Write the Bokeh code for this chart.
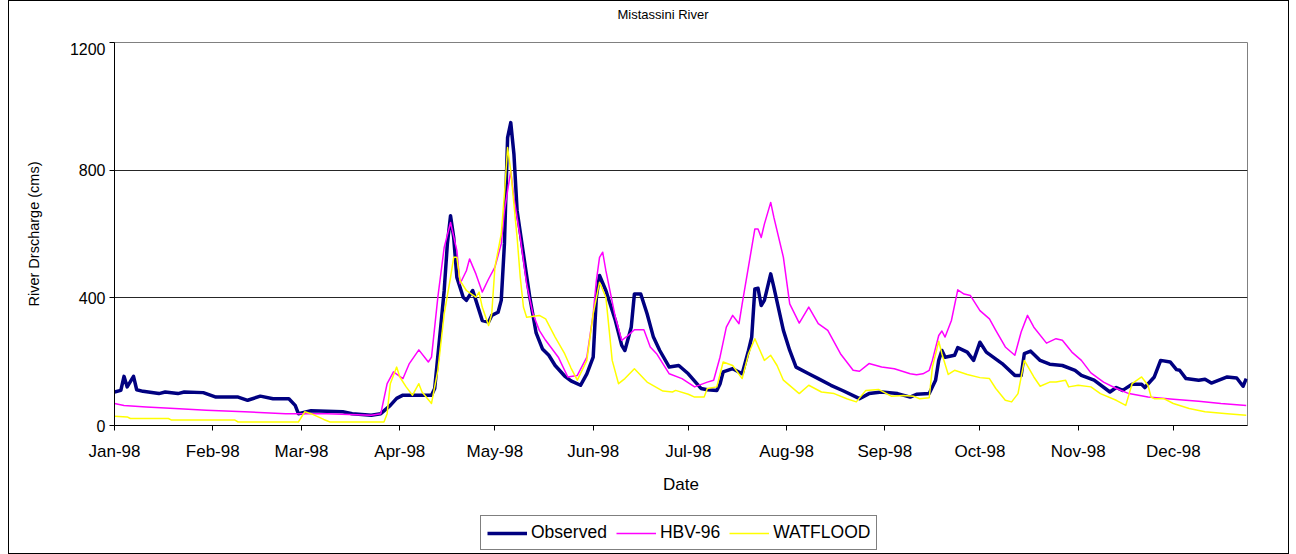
import pandas as pd
from bokeh.plotting import figure
from bokeh.layouts import column
from bokeh.models import Range1d, FixedTicker, Legend, LegendItem, Label
from bokeh.embed import file_html
from bokeh.resources import INLINE

# ---------------- data (day number since 1998-01-01, discharge in cms) -------------
title_text = "Mistassini River"
month_labels = ["Jan-98", "Feb-98", "Mar-98", "Apr-98", "May-98", "Jun-98",
                "Jul-98", "Aug-98", "Sep-98", "Oct-98", "Nov-98", "Dec-98"]
y_ticks = [0, 400, 800, 1200]

obs_days = [0, 2, 3, 4, 6, 7, 9, 14, 16, 20, 22, 28, 32, 39, 42, 46, 50, 55, 57, 58, 62, 72, 75, 81, 84, 87, 89,
            91, 94, 100, 101, 103, 104, 105, 106, 107, 108, 110, 111, 113, 114, 116, 118, 119, 121, 122, 123, 124,
            125, 126, 127, 129, 131, 133, 135, 137, 139, 142, 144, 147, 149, 151, 152, 153, 155, 158, 160, 161,
            163, 164, 166, 168, 170, 172, 175, 178, 181, 185, 187, 190, 191, 192, 195, 198, 200, 201, 202, 203,
            204, 205, 207, 208, 211, 213, 215, 219, 222, 226, 230, 235, 238, 242, 247, 251, 253, 257, 259, 260,
            261, 262, 265, 266, 269, 271, 273, 275, 280, 284, 286, 287, 289, 292, 295, 299, 303, 305, 309, 314,
            316, 318, 321, 324, 325, 328, 330, 333, 335, 336, 338, 342, 344, 346, 351, 354, 356, 357]
obs_vals = [105, 110, 154, 121, 154, 112, 107, 100, 105, 100, 105, 103, 89, 89, 79, 92, 84, 84, 63, 37, 46, 43, 37,
            32, 37, 63, 85, 95, 95, 95, 116, 319, 423, 569, 657, 589, 464, 402, 392, 423, 392, 329, 324, 345, 355,
            392, 569, 902, 949, 850, 673, 537, 402, 290, 240, 220, 188, 155, 140, 126, 162, 214, 402, 470, 423,
            329, 251, 235, 308, 412, 412, 350, 277, 235, 183, 188, 162, 116, 112, 110, 130, 168, 178, 162, 235,
            277, 428, 430, 376, 392, 475, 433, 298, 235, 183, 162, 147, 126, 108, 84, 100, 105, 100, 89, 98, 100,
            142, 204, 235, 214, 220, 244, 230, 204, 261, 230, 194, 157, 157, 225, 233, 204, 192, 188, 173, 157,
            142, 105, 119, 110, 129, 129, 119, 152, 204, 199, 175, 173, 147, 142, 145, 133, 152, 149, 123, 147]

hbv_days = [0, 3, 10, 19, 29, 41, 54, 67, 81, 84, 86, 88, 91, 93, 96, 99, 100, 102, 104, 106, 108, 109, 111, 112,
            114, 116, 118, 120, 122, 123, 125, 126, 128, 130, 132, 134, 136, 140, 143, 146, 149, 151, 152, 153,
            154, 155, 158, 160, 162, 164, 167, 169, 171, 175, 179, 183, 187, 189, 191, 193, 195, 197, 198, 202,
            203, 204, 205, 207, 208, 211, 213, 216, 219, 222, 225, 229, 233, 235, 238, 242, 246, 251, 253, 255,
            257, 258, 260, 261, 262, 264, 266, 268, 270, 273, 276, 278, 281, 284, 286, 288, 290, 294, 297, 299,
            302, 305, 308, 312, 316, 320, 326, 334, 342, 349, 357]
hbv_vals = [69, 63, 58, 53, 48, 43, 37, 37, 32, 37, 131, 168, 147, 194, 237, 199, 214, 402, 558, 636, 548, 444, 485,
            522, 475, 418, 459, 496, 569, 673, 798, 714, 589, 444, 350, 298, 267, 214, 152, 157, 214, 350, 454,
            527, 543, 485, 339, 267, 282, 300, 300, 246, 225, 162, 147, 121, 136, 142, 214, 308, 345, 319, 381,
            616, 616, 589, 631, 699, 652, 527, 381, 321, 371, 319, 298, 225, 173, 170, 194, 183, 178, 162, 159,
            162, 173, 204, 282, 296, 277, 329, 425, 412, 407, 360, 334, 298, 246, 220, 293, 345, 308, 258, 272,
            267, 230, 204, 165, 136, 116, 100, 89, 82, 76, 69, 63]

wat_days = [0, 4, 5, 17, 18, 38, 39, 58, 60, 62, 66, 68, 85, 86, 87, 89, 90, 92, 94, 96, 97, 100, 102, 104, 106,
            107, 108, 109, 111, 114, 115, 116, 118, 119, 120, 122, 123, 124, 125, 127, 128, 129, 130, 134, 136,
            139, 142, 144, 146, 149, 151, 153, 155, 157, 159, 161, 164, 168, 173, 176, 177, 181, 183, 186, 187,
            190, 192, 195, 198, 200, 202, 205, 207, 209, 211, 216, 219, 223, 227, 231, 234, 237, 241, 245, 249,
            252, 254, 257, 258, 260, 261, 263, 265, 269, 273, 276, 278, 281, 283, 285, 287, 290, 292, 295, 297,
            300, 301, 304, 308, 311, 316, 319, 321, 324, 326, 327, 328, 331, 334, 339, 344, 351, 357]
wat_vals = [29, 27, 22, 22, 17, 17, 11, 11, 43, 37, 19, 11, 11, 37, 131, 183, 152, 121, 95, 131, 105, 69, 173, 350,
            464, 527, 527, 454, 423, 402, 418, 371, 313, 350, 496, 600, 725, 871, 798, 589, 464, 371, 339, 345,
            334, 277, 225, 180, 142, 204, 350, 449, 402, 204, 131, 147, 178, 136, 108, 105, 110, 98, 89, 89, 116,
            121, 199, 188, 147, 225, 272, 204, 220, 188, 142, 100, 126, 105, 100, 84, 74, 110, 113, 92, 94, 92,
            84, 87, 183, 264, 225, 160, 173, 160, 150, 147, 116, 79, 74, 100, 204, 152, 123, 136, 136, 142, 121,
            126, 121, 100, 79, 63, 131, 152, 126, 89, 84, 84, 69, 53, 43, 37, 32]

series_names = ["Observed", "HBV-96", "WATFLOOD"]
series_colors = ["#000080", "#FF00FF", "#FFFF00"]
series_widths = [3.5, 1.5, 1.5]

FONT = "Liberation Sans"
W = 1279


def strip(height):
    f = figure(width=W, height=height, output_backend="svg", toolbar_location=None,
               x_range=Range1d(0, 1), y_range=Range1d(0, 1), x_axis_type=None, y_axis_type=None,
               min_border_left=0, min_border_right=0, min_border_top=0, min_border_bottom=0,
               background_fill_color="white", border_fill_color="white", outline_line_color=None)
    f.grid.visible = False
    return f


# ---------------- title strip -------------
ts = strip(41)
ts.add_layout(Label(x=503, y=28, x_units="screen", y_units="screen", text=title_text,
                    text_font=FONT, text_font_size="13px", text_color="black",
                    text_align="left", text_baseline="middle"))

# ---------------- main figure -------------
start = pd.Timestamp(1998, 1, 1)
month_ticks = [(pd.Timestamp(1998, m, 1) - start).days for m in range(1, 13)]

p = figure(width=W, height=468, output_backend="svg", toolbar_location=None, title=None,
           x_range=Range1d(0, 357.4), y_range=Range1d(0, 1200),
           min_border_left=105, min_border_right=41, min_border_top=0, min_border_bottom=85,
           background_fill_color="white", border_fill_color="white")

p.outline_line_color = "#808080"
p.outline_line_width = 1

p.xaxis.ticker = FixedTicker(ticks=month_ticks)
p.xaxis.major_label_overrides = {t: lab for t, lab in zip(month_ticks, month_labels)}
p.xaxis.axis_label = "Date"
p.xaxis.minor_tick_line_color = None
p.xaxis.major_tick_out = 5
p.xaxis.major_tick_in = 0
p.xaxis.major_label_standoff = 11
p.xaxis.axis_label_standoff = 11

p.yaxis.ticker = FixedTicker(ticks=y_ticks)
p.yaxis.axis_label = "River Drscharge (cms)"
p.yaxis.minor_tick_line_color = None
p.yaxis.major_tick_out = 5
p.yaxis.major_tick_in = 0
p.yaxis.major_label_standoff = 4
p.yaxis.axis_label_standoff = 25

for ax in (p.xaxis[0], p.yaxis[0]):
    ax.axis_line_color = "black"
    ax.major_tick_line_color = "black"
    ax.major_label_text_font = FONT
    ax.major_label_text_color = "black"
    ax.axis_label_text_font = FONT
    ax.axis_label_text_font_style = "normal"
    ax.axis_label_text_color = "black"
p.xaxis.major_label_text_font_size = "17px"
p.yaxis.major_label_text_font_size = "16px"
p.xaxis.axis_label_text_font_size = "17px"
p.yaxis.axis_label_text_font_size = "14.5px"

p.xgrid.visible = False
p.ygrid.grid_line_color = "black"
p.ygrid.grid_line_alpha = 0.85
p.ygrid.grid_line_width = 1

# lines (Observed first, simulated series drawn over it)
for d, v, c, w in zip([obs_days, hbv_days, wat_days], [obs_vals, hbv_vals, wat_vals],
                      series_colors, series_widths):
    p.line(d, v, line_color=c, line_width=w, line_join="round")

# ---------------- legend strip -------------
lg = strip(43)
items = []
for name, c, w in zip(series_names, series_colors, series_widths):
    # sample line kept outside the strip's visible range; only its legend swatch shows
    r = lg.line(x=[-5, -4], y=[-5, -4], line_color=c, line_width=w)
    items.append(LegendItem(label=name, renderers=[r]))
legend = Legend(items=items, orientation="horizontal", location=(366, 3),
                label_text_font=FONT, label_text_font_size="17.5px", label_text_color="black",
                glyph_width=40, glyph_height=20, label_height=20, label_standoff=4, spacing=9,
                padding=6, margin=0, border_line_color="black", border_line_width=1,
                background_fill_color="white", background_fill_alpha=1)
lg.add_layout(legend, "center")

layout = column(ts, p, lg, spacing=0, styles={"border": "1px solid black", "margin-left": "8px"})

open("out.html", "w").write(file_html(layout, INLINE))
